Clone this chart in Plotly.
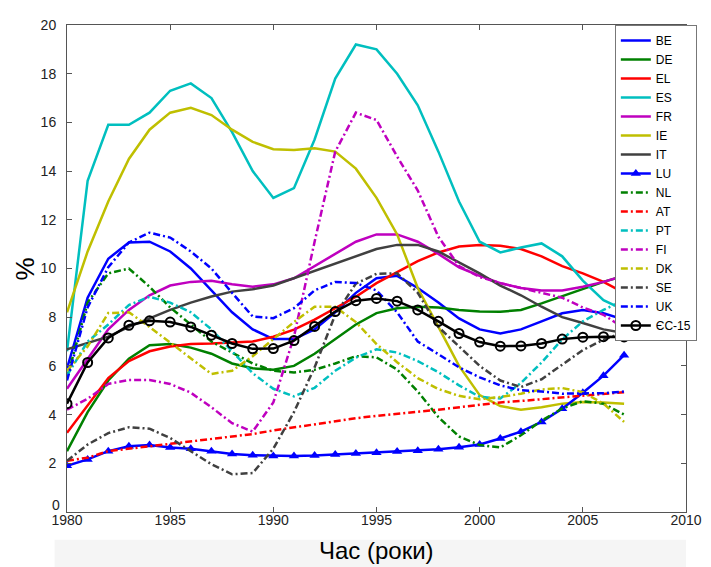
import plotly.graph_objects as go

years = list(range(1980, 2008))

BE = [5.9, 8.8, 10.4, 11.07, 11.1, 10.7, 10.0, 9.1, 8.2, 7.5, 7.1, 7.1, 7.5, 8.2, 9.0, 9.6, 9.7, 9.2, 8.6, 7.95, 7.5, 7.33, 7.5, 7.83, 8.16, 8.3, 8.16, 7.9]
DE = [2.5, 4.1, 5.4, 6.3, 6.85, 6.9, 6.75, 6.5, 6.1, 5.9, 5.84, 6.0, 6.5, 7.1, 7.7, 8.17, 8.37, 8.43, 8.4, 8.3, 8.23, 8.22, 8.3, 8.57, 8.87, 9.18, 9.45, 9.7]
EL = [3.25, 4.4, 5.5, 6.2, 6.6, 6.8, 6.9, 6.92, 6.95, 7.0, 7.2, 7.49, 7.9, 8.37, 8.84, 9.4, 9.85, 10.3, 10.66, 10.9, 10.97, 10.93, 10.8, 10.5, 10.1, 9.8, 9.45, 9.0]
ES = [6.6, 13.6, 15.9, 15.9, 16.4, 17.3, 17.6, 17.0, 15.6, 14.0, 12.9, 13.3, 15.3, 17.8, 19.2, 19.0, 18.0, 16.7, 14.8, 12.75, 11.1, 10.66, 10.86, 11.03, 10.5, 9.5, 8.7, 8.3]
FR = [5.06, 6.3, 7.5, 8.3, 8.9, 9.3, 9.45, 9.5, 9.35, 9.25, 9.35, 9.6, 10.1, 10.6, 11.1, 11.4, 11.4, 11.1, 10.6, 10.05, 9.7, 9.4, 9.2, 9.1, 9.1, 9.25, 9.45, 9.7]
IE = [8.2, 10.7, 12.75, 14.5, 15.7, 16.4, 16.6, 16.3, 15.7, 15.2, 14.9, 14.87, 14.94, 14.8, 14.1, 12.9, 11.4, 9.2, 7.6, 6.0, 4.8, 4.35, 4.2, 4.3, 4.45, 4.52, 4.5, 4.45]
IT = [6.68, 6.95, 7.2, 7.6, 7.95, 8.3, 8.6, 8.85, 9.05, 9.15, 9.3, 9.6, 9.9, 10.2, 10.5, 10.8, 10.97, 10.97, 10.7, 10.25, 9.8, 9.3, 8.9, 8.43, 8.0, 7.76, 7.5, 7.35]
LU = [1.9, 2.16, 2.5, 2.7, 2.75, 2.65, 2.6, 2.5, 2.38, 2.33, 2.3, 2.3, 2.32, 2.36, 2.4, 2.43, 2.48, 2.52, 2.58, 2.66, 2.77, 3.02, 3.3, 3.7, 4.24, 4.9, 5.6, 6.44]
NL = [5.5, 8.6, 9.8, 10.0, 9.25, 8.4, 7.7, 7.0, 6.55, 6.1, 5.8, 5.73, 5.84, 6.1, 6.4, 6.35, 5.85, 4.95, 3.9, 3.1, 2.75, 2.65, 3.15, 3.75, 4.25, 4.55, 4.45, 4.0]
AT = [2.1, 2.23, 2.5, 2.6, 2.67, 2.77, 2.88, 2.98, 3.1, 3.2, 3.35, 3.48, 3.6, 3.72, 3.85, 3.95, 4.05, 4.12, 4.2, 4.3, 4.42, 4.5, 4.56, 4.63, 4.7, 4.78, 4.85, 4.92]
PT = [5.6, 7.0, 7.7, 8.5, 8.84, 8.6, 8.2, 7.5, 6.6, 5.7, 5.06, 4.75, 5.1, 5.8, 6.34, 6.68, 6.55, 6.2, 5.74, 5.2, 4.73, 4.66, 5.3, 6.14, 7.09, 7.83, 8.3, 8.7]
FI = [4.2, 4.65, 5.26, 5.42, 5.42, 5.26, 4.9, 4.3, 3.65, 3.3, 4.5, 7.2, 11.1, 14.8, 16.4, 16.1, 14.6, 13.2, 11.3, 10.1, 9.65, 9.4, 9.2, 9.0, 8.8, 8.4, 8.1, 7.55]
DK = [5.8, 6.8, 8.17, 8.2, 7.6, 6.95, 6.3, 5.67, 5.8, 6.4, 7.1, 7.8, 8.43, 8.43, 7.8, 6.9, 6.15, 5.5, 5.05, 4.77, 4.63, 4.72, 4.86, 5.03, 5.09, 4.92, 4.45, 3.7]
SE = [2.1, 2.77, 3.24, 3.48, 3.42, 3.04, 2.5, 1.96, 1.55, 1.6, 2.6, 4.1, 5.94, 8.1, 9.38, 9.78, 9.8, 9.0, 7.6, 6.8, 6.0, 5.4, 5.13, 5.45, 6.05, 6.65, 7.08, 7.38]
UK = [5.4, 8.4, 10.05, 11.07, 11.47, 11.27, 10.7, 10.0, 9.0, 8.03, 7.96, 8.37, 9.1, 9.45, 9.4, 9.1, 8.2, 7.0, 6.48, 5.94, 5.53, 5.2, 5.0, 4.95, 4.86, 4.86, 4.88, 4.95]
EC15 = [4.45, 6.14, 7.15, 7.67, 7.85, 7.8, 7.6, 7.26, 6.92, 6.7, 6.71, 7.04, 7.62, 8.23, 8.68, 8.77, 8.66, 8.3, 7.83, 7.33, 6.98, 6.81, 6.82, 6.92, 7.1, 7.18, 7.2, 7.19]

x_ticks = [1980, 1985, 1990, 1995, 2000, 2005, 2010]
y_ticks = [0, 2, 4, 6, 8, 10, 12, 14, 16, 18, 20]
# the "0" label is drawn separately (raised above the axis, as in the original)
y_ticktext = ["" if v == 0 else str(v) for v in y_ticks]

C_B = "#0000FF"
C_G = "#008000"
C_R = "#FF0000"
C_C = "#00BFBF"
C_M = "#BF00BF"
C_Y = "#BFBF00"
C_K = "#404040"

DASHDOT = "7px,3px,2px,3px"

series = [
    ("BE", BE, C_B, "solid", None),
    ("DE", DE, C_G, "solid", None),
    ("EL", EL, C_R, "solid", None),
    ("ES", ES, C_C, "solid", None),
    ("FR", FR, C_M, "solid", None),
    ("IE", IE, C_Y, "solid", None),
    ("IT", IT, C_K, "solid", None),
    ("LU", LU, C_B, "solid", "triangle-up"),
    ("NL", NL, C_G, DASHDOT, None),
    ("AT", AT, C_R, DASHDOT, None),
    ("PT", PT, C_C, DASHDOT, None),
    ("FI", FI, C_M, DASHDOT, None),
    ("DK", DK, C_Y, DASHDOT, None),
    ("SE", SE, C_K, DASHDOT, None),
    ("UK", UK, C_B, DASHDOT, None),
]

fig = go.Figure()
for name, vals, col, dash, marker in series:
    if marker:
        fig.add_trace(go.Scatter(
            x=years, y=vals, name=name, mode="lines+markers",
            line=dict(color=col, width=2.5, dash=dash),
            marker=dict(symbol=marker, size=9, color=col),
        ))
    else:
        fig.add_trace(go.Scatter(
            x=years, y=vals, name=name, mode="lines",
            line=dict(color=col, width=2.5, dash=dash),
        ))

fig.add_trace(go.Scatter(
    x=years, y=EC15, name="ЄС-15", mode="lines+markers",
    line=dict(color="#000000", width=2.5),
    marker=dict(symbol="circle-open", size=9, color="#000000", line=dict(width=2)),
))

FONT = "Liberation Sans, Arial, sans-serif"
axis_common = dict(
    showline=True, linecolor="#555555", linewidth=1, mirror="ticks",
    ticks="inside", ticklen=5, tickcolor="#555555",
    showgrid=False, zeroline=False,
    tickfont=dict(family=FONT, size=14, color="#222222"),
)

fig.update_xaxes(range=[1980, 2010], tickvals=x_ticks, ticklabelstandoff=-5, **axis_common)
fig.update_yaxes(range=[0, 20], tickvals=y_ticks, ticktext=y_ticktext,
                 ticklabelstandoff=7, **axis_common)

fig.update_layout(
    width=703, height=559,
    margin=dict(l=59, r=16, t=9, b=55),
    paper_bgcolor="white", plot_bgcolor="white",
    showlegend=True,
    legend=dict(
        x=1.0175, y=1.0, xanchor="right", yanchor="top",
        bgcolor="white", bordercolor="#777777", borderwidth=1,
        font=dict(family=FONT, size=12, color="#000000"),
        tracegroupgap=0, itemwidth=30,
    ),
    shapes=[dict(type="rect", xref="paper", yref="paper",
                 x0=-0.02, x1=1.0, y0=-0.057, y1=-0.2,
                 fillcolor="#f5f5f5", line=dict(width=0), layer="below")],
    annotations=[
        dict(text="0", xref="paper", yref="paper", x=-0.0175, y=0.014,
             xanchor="center", yanchor="middle", showarrow=False,
             font=dict(family=FONT, size=14, color="#222222")),
        dict(text="%", xref="paper", yref="paper", x=-0.068, y=0.5,
             xanchor="center", yanchor="middle", textangle=-90, showarrow=False,
             font=dict(family=FONT, size=26, color="#000000")),
        dict(text="Час (роки)", xref="paper", yref="paper", x=0.5, y=-0.079,
             xanchor="center", yanchor="middle", showarrow=False,
             font=dict(family=FONT, size=24, color="#000000")),
    ],
)

fig.write_html("out.html")
